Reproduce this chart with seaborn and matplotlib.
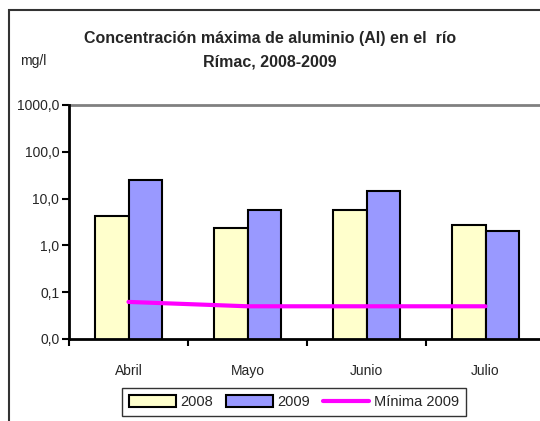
import matplotlib
matplotlib.use("Agg")
import matplotlib.pyplot as plt
import matplotlib.patches as mpatches
from matplotlib.lines import Line2D
import seaborn as sns
import pandas as pd

# data
months = ["Abril", "Mayo", "Junio", "Julio"]
max_2008 = [4.3, 2.3, 5.8, 2.75]
max_2009 = [25.0, 5.8, 14.5, 2.0]
min_2009 = [0.062, 0.05, 0.05, 0.05]
y_ticks = [0.01, 0.1, 1, 10, 100, 1000]
y_tick_labels = ["0,0", "0,1", "1,0", "10,0", "100,0", "1000,0"]

sns.set_style("white")
plt.rcParams["font.family"] = ["Liberation Sans Narrow", "Liberation Sans", "DejaVu Sans"]

df = pd.DataFrame({
    "mes": months * 2,
    "anio": ["2008"] * 4 + ["2009"] * 4,
    "valor": max_2008 + max_2009,
})
df_min = pd.DataFrame({"mes": months, "valor": min_2009})

colors = {"2008": "#FFFFCC", "2009": "#9999FF"}
line_color = "#FF00FF"

fig = plt.figure(figsize=(5.4, 4.21), dpi=100)
ax = fig.add_axes([69 / 540, 1 - 339 / 421, 476 / 540, (339 - 105) / 421])

ax.set_yscale("log")
sns.barplot(data=df, x="mes", y="valor", hue="anio", palette=colors, saturation=1,
            width=0.57, edgecolor="black", linewidth=1.5, ax=ax, legend=False)
sns.pointplot(data=df_min, x="mes", y="valor", color=line_color, marker="",
              linewidth=3, errorbar=None, ax=ax)

ax.set_ylim(0.01, 1000)
ax.set_xlim(-0.5, 3.5)
ax.axhline(1000, color="#808080", lw=2, clip_on=False)

ax.set_yticks(y_ticks)
ax.set_yticklabels(y_tick_labels, fontsize=10)
ax.minorticks_off()
ax.tick_params(axis="y", which="major", direction="out", length=5, width=1.5,
               color="black", pad=2, left=True)

# category boundaries as ticks, labels at the centres
ax.set_xticks([-0.5, 0.5, 1.5, 2.5, 3.5])
ax.set_xticklabels([])
ax.set_xticks(range(len(months)), minor=True)
ax.set_xticklabels(months, minor=True, fontsize=10)
ax.tick_params(axis="x", which="major", direction="out", length=5, width=1.5,
               color="black", bottom=True)
ax.tick_params(axis="x", which="minor", length=0, pad=18)
ax.set_xlabel("")
ax.set_ylabel("")

for side in ["top", "right"]:
    ax.spines[side].set_visible(False)
for side in ["left", "bottom"]:
    ax.spines[side].set_color("black")
    ax.spines[side].set_linewidth(2)

fig.text(270 / 540, 1 - 50 / 421, "Concentración máxima de aluminio (Al) en el  río\nRímac, 2008-2009",
         ha="center", va="center", fontsize=11.5, fontweight="bold", linespacing=1.75)
fig.text(33 / 540, 1 - 61 / 421, "mg/l", ha="center", va="center", fontsize=10)

handles = [
    mpatches.Patch(facecolor=colors["2008"], edgecolor="black", linewidth=1.5, label="2008"),
    mpatches.Patch(facecolor=colors["2009"], edgecolor="black", linewidth=1.5, label="2009"),
    Line2D([0], [0], color=line_color, lw=3, label="Mínima 2009"),
]
leg = fig.legend(handles=handles, loc="center", bbox_to_anchor=(294 / 540, 1 - 402 / 421),
                 ncol=3, frameon=True, fancybox=False, fontsize=10.5, handlelength=3.2,
                 handleheight=0.8, handletextpad=0.3, columnspacing=0.9,
                 borderpad=0.5, edgecolor="black")
leg.get_frame().set_linewidth(1)

fig.add_artist(mpatches.Rectangle((9 / 540, -0.1), 1.2, 1.1 - 10 / 421,
                                  transform=fig.transFigure, fill=False,
                                  edgecolor="#333333", linewidth=1.5))

fig.savefig("out.png", dpi=100)
